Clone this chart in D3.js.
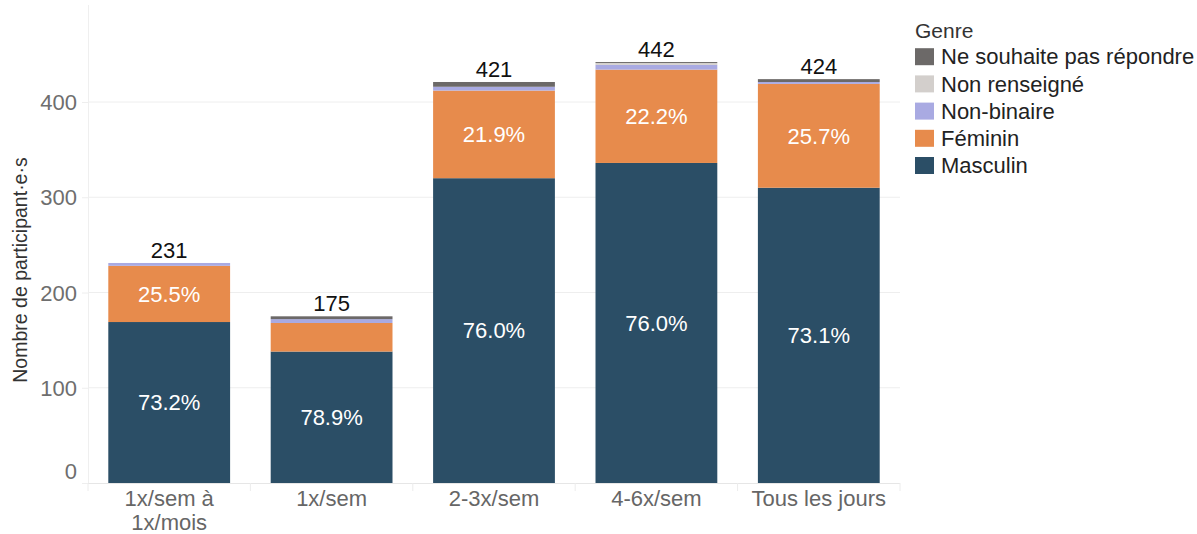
<!DOCTYPE html>
<html><head><meta charset="utf-8">
<script src="https://cdn.jsdelivr.net/npm/d3@7"></script>
<style>body{margin:0;background:#fff;}svg{display:block;font-family:"Liberation Sans",Arial,sans-serif;}</style>
</head><body>
<svg id="c" width="1197" height="534"></svg>
<script>
const categories = ["1x/sem à\n1x/mois", "1x/sem", "2-3x/sem", "4-6x/sem", "Tous les jours"];
const genres = ["Masculin", "Féminin", "Non-binaire", "Non renseigné", "Ne souhaite pas répondre"];
const masculin = [169, 138, 320, 336, 310];
const feminin = [59, 30, 92, 98, 109];
const nonBinaire = [3, 4, 4, 5, 2];
const nonRenseigne = [0, 0, 0, 2, 0];
const neSouhaitePas = [0, 3, 5, 1, 3];
const yTicks = [0, 100, 200, 300, 400];
const colors = ["#2b4e66", "#e78b4c", "#a9aae2", "#d3cfcc", "#6c6968"];
const legendOrder = ["Ne souhaite pas répondre", "Non renseigné", "Non-binaire", "Féminin", "Masculin"];

(function () {
const seriesValues = [masculin, feminin, nonBinaire, nonRenseigne, neSouhaitePas];
const rows = categories.map((c, i) => {
  const r = {cat: c};
  genres.forEach((g, k) => r[g] = seriesValues[k][i]);
  r.total = genres.reduce((s, g) => s + r[g], 0);
  return r;
});

const svg = d3.select("#c");
const mLeft = 88, mRight = 900, mBottom = 483;
const x = d3.scaleBand().domain(categories).range([mLeft, mRight]).paddingInner(0.25).paddingOuter(0.125);
const y = d3.scaleLinear().domain([0, 400]).range([mBottom, mBottom - 381]);
const color = d3.scaleOrdinal().domain(genres).range(colors);

svg.append("g").selectAll("line").data(yTicks.filter(t => t > 0)).join("line")
  .attr("x1", mLeft).attr("x2", mRight).attr("y1", d => y(d)).attr("y2", d => y(d))
  .attr("stroke", "#eeeeee").attr("stroke-width", 1);
svg.append("line").attr("x1", mLeft + 0.5).attr("x2", mLeft + 0.5).attr("y1", 5).attr("y2", mBottom)
  .attr("stroke", "#efefef");
svg.append("line").attr("x1", mLeft).attr("x2", mRight).attr("y1", mBottom + 0.5).attr("y2", mBottom + 0.5)
  .attr("stroke", "#e6e6e6");
const seps = categories.map(c => x(c) - x.step() * x.paddingInner() / 2).concat([mRight]);
svg.append("g").selectAll("line").data(seps).join("line")
  .attr("x1", d => d).attr("x2", d => d).attr("y1", mBottom).attr("y2", mBottom + 8)
  .attr("stroke", "#ececec");

const yAxis = svg.append("g").attr("transform", `translate(${mLeft},0)`)
  .call(d3.axisLeft(y).tickValues(yTicks).tickSize(6).tickPadding(5));
yAxis.select(".domain").remove();
yAxis.selectAll(".tick line").attr("stroke", "#eeeeee");
yAxis.selectAll(".tick text").attr("fill", "#6e6e6e").style("font-size", "22px")
  .attr("dy", d => d === 0 ? "-0.2em" : "0.35em");

svg.append("text").attr("transform", "translate(27,270) rotate(-90)")
  .attr("text-anchor", "middle").attr("fill", "#333").style("font-size", "19.5px")
  .text("Nombre de participant·e·s");

const stack = d3.stack().keys(genres)(rows);
const g = svg.append("g");
stack.forEach(layer => {
  g.append("g").attr("fill", color(layer.key)).selectAll("rect").data(layer).join("rect")
    .attr("x", d => x(d.data.cat)).attr("width", x.bandwidth())
    .attr("y", d => y(d[1])).attr("height", d => y(d[0]) - y(d[1]));
});

["Masculin", "Féminin"].forEach(key => {
  const layer = stack.find(l => l.key === key);
  svg.append("g").selectAll("text").data(layer.filter(d => (y(d[0]) - y(d[1])) > 40)).join("text")
    .attr("x", d => x(d.data.cat) + x.bandwidth() / 2)
    .attr("y", d => (y(d[0]) + y(d[1])) / 2)
    .attr("dy", "0.35em").attr("text-anchor", "middle").attr("fill", "#fff")
    .style("font-size", "22px")
    .text(d => (100 * (d[1] - d[0]) / d.data.total).toFixed(1) + "%");
});

svg.append("g").selectAll("text").data(rows).join("text")
  .attr("x", d => x(d.cat) + x.bandwidth() / 2).attr("y", d => y(d.total) - 5)
  .attr("text-anchor", "middle").attr("fill", "#111").style("font-size", "22px")
  .text(d => d.total);

const xl = svg.append("g").selectAll("text").data(categories).join("text")
  .attr("x", d => x(d) + x.bandwidth() / 2).attr("y", 506)
  .attr("text-anchor", "middle").attr("fill", "#666").style("font-size", "22px");
xl.each(function(d) {
  const lines = d.split("\n");
  d3.select(this).selectAll("tspan").data(lines).join("tspan")
    .attr("x", x(d) + x.bandwidth() / 2).attr("dy", (l, i) => i === 0 ? 0 : 24).text(l => l);
});

const lg = svg.append("g").attr("transform", "translate(915,0)");
lg.append("text").attr("x", 0).attr("y", 38).attr("fill", "#333").style("font-size", "21px").text("Genre");
legendOrder.forEach((k, i) => {
  const yy = 56.7 + i * 27.2;
  lg.append("rect").attr("x", 0).attr("y", yy - 8.5).attr("width", 19).attr("height", 17).attr("fill", color(k));
  lg.append("text").attr("x", 26).attr("y", yy).attr("dy", "0.35em").attr("fill", "#222")
    .style("font-size", "22px").text(k);
});
})();
</script>
</body></html>
